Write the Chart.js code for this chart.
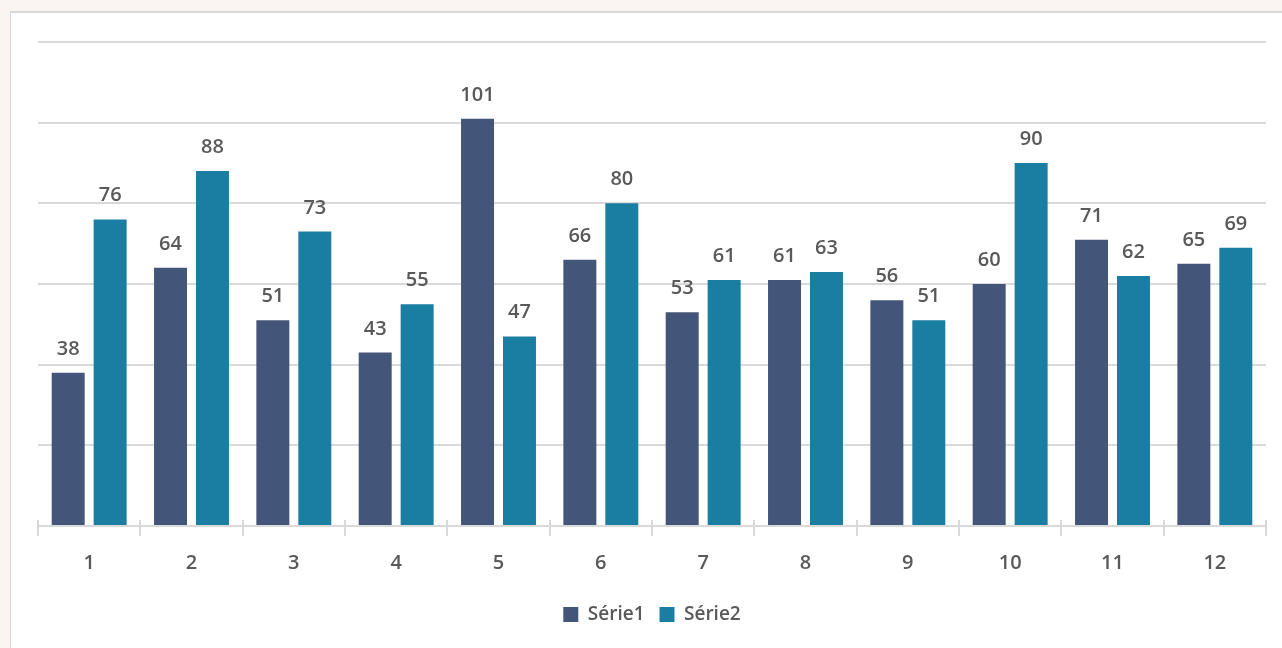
<!DOCTYPE html>
<html>
<head>
<meta charset="utf-8">
<script src="https://cdn.jsdelivr.net/npm/chart.js@4/dist/chart.umd.min.js"></script>
<style>
  html, body { margin: 0; padding: 0; width: 1282px; height: 648px; overflow: hidden; background: #faf5f2; }
  #panel { position: absolute; left: 10px; top: 11px; width: 1271px; height: 635px; background: #ffffff;
           border-left: 1px solid #d9d9d9; border-top: 2px solid #d9d9d9; }
  #c { display: block; }
</style>
</head>
<body>
<div id="panel"><canvas id="c" width="1271" height="635"></canvas></div>
<script>
const categories = ['1','2','3','4','5','6','7','8','9','10','11','12'];
const serie1 = [38, 64, 51, 43, 101, 66, 53, 61, 56, 60, 71, 65];
const serie2 = [76, 88, 73, 55, 47, 80, 61, 63, 51, 90, 62, 69];
const seriesNames = ['Série1', 'Série2'];
const yTicks = [0, 20, 40, 60, 80, 100, 120];

const FONT = '"Open Sans", "Noto Sans", sans-serif';
const TEXT = '#595959';
const GRID = '#d9d9d9';

const dataLabels = {
  id: 'dataLabels',
  afterDatasetsDraw(chart) {
    const ctx = chart.ctx;
    ctx.save();
    ctx.font = '600 20px ' + FONT;
    ctx.fillStyle = TEXT;
    ctx.textAlign = 'center';
    ctx.textBaseline = 'alphabetic';
    chart.data.datasets.forEach((ds, i) => {
      chart.getDatasetMeta(i).data.forEach((bar, j) => {
        ctx.fillText(String(ds.data[j]), bar.x, bar.y - 18);
      });
    });
    ctx.restore();
  }
};

const crossTicks = {
  id: 'crossTicks',
  afterDraw(chart) {
    const x = chart.scales.x;
    const ctx = chart.ctx;
    const y0 = x.top;
    ctx.save();
    ctx.strokeStyle = GRID;
    ctx.lineWidth = 2;
    const n = x.ticks.length;
    for (let i = 0; i <= n; i++) {
      const px = Math.round(x.left + (x.right - x.left) * i / n);
      ctx.beginPath();
      ctx.moveTo(px, y0 - 6);
      ctx.lineTo(px, y0);
      ctx.stroke();
    }
    ctx.restore();
  }
};

new Chart(document.getElementById('c'), {
  type: 'bar',
  data: {
    labels: categories,
    datasets: [
      { label: seriesNames[0], data: serie1, backgroundColor: '#44557a', borderWidth: 0 },
      { label: seriesNames[1], data: serie2, backgroundColor: '#1a7da2', borderWidth: 0 }
    ]
  },
  options: {
    responsive: false,
    animation: false,
    events: [],
    layout: { padding: { left: 27, right: 16, top: 29, bottom: 14 } },
    datasets: { bar: { categoryPercentage: 0.82, barPercentage: 0.786 } },
    scales: {
      x: {
        grid: { display: true, drawOnChartArea: false, drawTicks: true, tickLength: 10, color: GRID, lineWidth: 2, offset: true },
        border: { display: true, color: GRID, width: 2 },
        ticks: { color: TEXT, font: { family: FONT, size: 20, weight: '600' }, padding: 15 }
      },
      y: {
        min: 0, max: 120,
        afterBuildTicks(scale) { scale.ticks = yTicks.map(v => ({ value: v })); },
        grid: { color: GRID, lineWidth: 2, drawTicks: false },
        border: { display: false },
        ticks: { display: false }
      }
    },
    plugins: {
      legend: {
        position: 'bottom',
        labels: { color: TEXT, font: { family: FONT, size: 19, weight: '600' }, boxWidth: 15, boxHeight: 15, padding: 15 }
      },
      tooltip: { enabled: false },
      title: { display: false }
    }
  },
  plugins: [dataLabels, crossTicks]
});
</script>
</body>
</html>
